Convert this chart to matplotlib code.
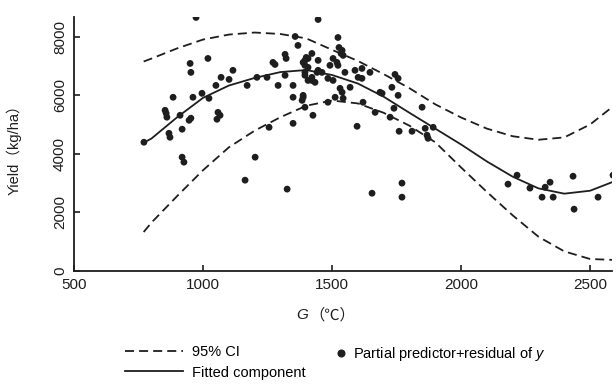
import matplotlib
matplotlib.use("Agg")
import matplotlib.pyplot as plt
from matplotlib.lines import Line2D

plt.rcParams['font.family'] = ['Liberation Sans', 'Noto Sans CJK SC', 'DejaVu Sans']
plt.rcParams['mathtext.fontset'] = 'custom'
plt.rcParams['mathtext.rm'] = 'Liberation Sans'
plt.rcParams['mathtext.it'] = 'Liberation Sans:italic'

# partial predictor + residual points (G in degC, yield in kg/ha)
pts_g = [771, 884, 853, 857, 860, 868, 872, 919, 911, 946, 953, 961, 996, 1023, 950, 953,
         1019, 919, 926, 973, 1050, 1070, 1101, 1116, 1058, 1066, 1054, 1171, 1209, 1248,
         1256, 1291, 1271, 1279, 1318, 1322, 1318, 1349, 1349, 1357, 1368, 1349, 1384, 1388,
         1395, 1426, 1395, 1407, 1422, 1395, 1422, 1434, 1442, 1163, 1202, 1326, 1446, 1523,
         1527, 1539, 1535, 1543, 1504, 1519, 1492, 1523, 1400, 1388, 1446, 1395, 1407, 1446,
         1461, 1395, 1407, 1422, 1484, 1504, 1550, 1589, 1616, 1647, 1601, 1616, 1570, 1531,
         1539, 1512, 1543, 1388, 1484, 1620, 1667, 1597, 1694, 1686, 1732, 1744, 1756, 1756,
         1725, 1740, 1849, 1760, 1810, 1861, 1868, 1872, 1892, 1655, 1771, 1771, 2182, 2217,
         2267, 2314, 2326, 2345, 2357, 2434, 2531, 2589, 2438]
pts_y = [4395, 5930, 5485, 5385, 5250, 4700, 4565, 4840, 5315, 5145, 5215, 5930, 6065, 5895,
         7085, 6780, 7255, 3885, 3715, 8655, 6335, 6610, 6540, 6850, 5415, 5315, 5180, 6335,
         6610, 6610, 4905, 6335, 7120, 7050, 7395, 7255, 6680, 6335, 5040, 8005, 7700, 5930,
         5825, 5930, 5590, 5315, 7190, 7255, 7425, 6780, 6610, 6440, 6780, 3100, 3885, 2795,
         8585, 7970, 7630, 7530, 7425, 7360, 7255, 7120, 7020, 7020, 7290, 7120, 7190, 7020,
         6950, 6850, 6780, 6680, 6505, 6505, 6575, 6505, 6780, 6850, 6915, 6780, 6610, 6575,
         6270, 6235, 6100, 5930, 5895, 5995, 5760, 5760, 5415, 4940, 6065, 6100, 6270, 6710,
         6575, 5995, 5250, 5555, 5590, 4770, 4770, 4870, 4635, 4530, 4905, 2655, 3000, 2520,
         2965, 3270, 2830, 2520, 2860, 3030, 2520, 3235, 2520, 3270, 2110]

# fitted component and 95% CI
curve_g = [770, 800, 900, 1000, 1100, 1200, 1300, 1400, 1500, 1600, 1700, 1800, 1900, 2000,
           2100, 2200, 2300, 2400, 2500, 2585]
fitted = [4380, 4520, 5250, 5910, 6330, 6590, 6790, 6860, 6690, 6400, 5950, 5400, 4860, 4320,
          3740, 3220, 2820, 2640, 2740, 3030]
ci_upper = [7150, 7250, 7600, 7900, 8070, 8140, 8090, 7940, 7550, 7170, 6720, 6240, 5690, 5240,
            4860, 4600, 4480, 4560, 5000, 5590]
ci_lower = [1330, 1650, 2560, 3440, 4220, 4790, 5250, 5640, 5820, 5720, 5400, 4960, 4395, 3535,
            2700, 1900, 1170, 670, 410, 380]

fig = plt.figure(figsize=(6.16, 3.87), dpi=100)
ax = fig.add_axes([74 / 616, 1 - 271 / 387, 538 / 616, 254 / 387])

ink = '#1e1e1e'
dash = (0, (5, 2.8))
ax.plot(curve_g, ci_upper, color=ink, lw=1.3, ls=dash)
ax.plot(curve_g, ci_lower, color=ink, lw=1.3, ls=dash)
ax.plot(curve_g, fitted, color=ink, lw=1.3)
ax.scatter(pts_g, pts_y, s=24, color=ink, edgecolors='none', zorder=3)

ax.set_xlim(500, 2585)
ax.set_ylim(0, 8670)
ax.set_xticks([500, 1000, 1500, 2000, 2500])
ax.set_yticks([0, 2000, 4000, 6000, 8000])
for s in ['top', 'right']:
    ax.spines[s].set_visible(False)
for s in ['left', 'bottom']:
    ax.spines[s].set_linewidth(1.3)
    ax.spines[s].set_color(ink)
ax.tick_params(direction='in', length=4, width=1.2, labelsize=11, colors=ink, pad=5)
ax.tick_params(axis='y', labelrotation=90)
for t in ax.get_yticklabels():
    t.set_va('center')

ax.set_ylabel('Yield（kg/ha）', fontsize=10.5, color=ink)
ax.yaxis.set_label_coords(-0.097, 0.49)
ax.text(0.435, -0.175, 'G', style='italic', fontsize=11, ha='right', va='center',
        transform=ax.transAxes, color=ink)
ax.text(0.437, -0.175, '（℃）', fontsize=11, ha='left', va='center',
        transform=ax.transAxes, color=ink)

line_handles = [Line2D([], [], color=ink, lw=1.3, ls=dash),
                Line2D([], [], color=ink, lw=1.3)]
fig.legend(line_handles, ['95% CI', 'Fitted component'], loc='upper left',
           bbox_to_anchor=(125 / 616, 1 - 345 / 387), frameon=False, fontsize=10.5,
           handlelength=4.0, handletextpad=0.6, labelspacing=0.45, borderpad=0,
           borderaxespad=0)
dot = Line2D([], [], color=ink, marker='o', ms=4.8, ls='none')
fig.legend([dot], ['Partial predictor+residual of $y$'], loc='upper left',
           bbox_to_anchor=(334 / 616, 1 - 345 / 387), frameon=False, fontsize=10.5,
           handlelength=1.0, handletextpad=0.3, borderpad=0, borderaxespad=0)

fig.savefig('out.png', dpi=100)
